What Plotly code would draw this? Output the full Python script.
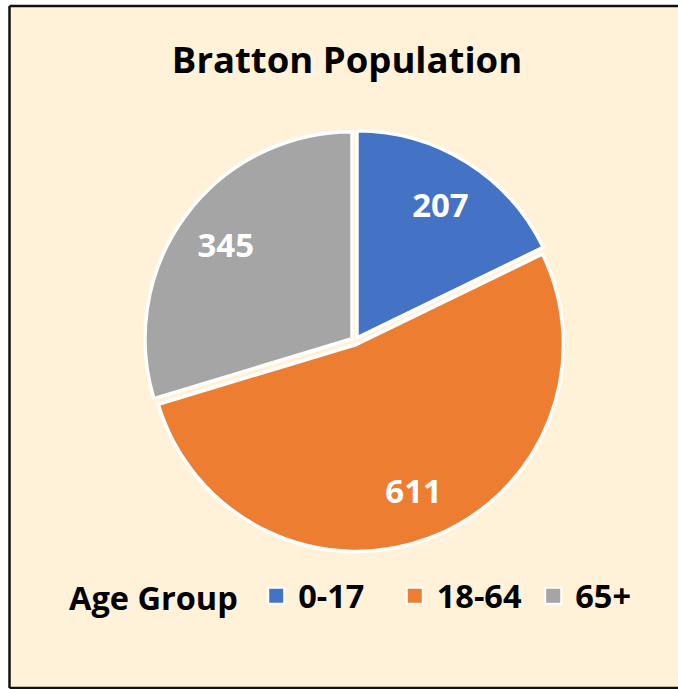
import plotly.graph_objects as go

categories = ["0-17", "18-64", "65+"]
values = [207, 611, 345]
colors = ["#4472C4", "#ED7D31", "#A5A5A5"]
title_text = "Bratton Population"
legend_title = "Age Group"

W, H = 678, 689
cx, cy, R = 355, 341, 207  # pixel centre (from top) and radius
pull = 0.018
Rd = R * (1 + pull)
FONT = "Open Sans"
domain = dict(x=[(cx - Rd) / W, (cx + Rd) / W],
              y=[(H - cy - Rd) / H, (H - cy + Rd) / H])

# coloured slices (no text)
fig = go.Figure(go.Pie(
    labels=categories, values=values, sort=False, direction="clockwise", rotation=0,
    pull=[pull] * 3,
    marker=dict(colors=colors, line=dict(color="white", width=3.5)),
    textinfo="none", hoverinfo="label+value", domain=domain, showlegend=False,
))
# transparent ring overlay that places the value labels further out, like Excel
fig.add_trace(go.Pie(
    labels=categories, values=values, sort=False, direction="clockwise", rotation=0,
    pull=[pull] * 3, hole=0.52,
    marker=dict(colors=["rgba(0,0,0,0)"] * 3, line=dict(width=0)),
    textinfo="value", textposition="inside", insidetextorientation="horizontal",
    textfont=dict(family=FONT, size=33, color="white", weight="bold"),
    hoverinfo="skip", showlegend=False, domain=domain,
))
# legend entries with Excel-sized square keys
for name, col in zip(categories, colors):
    fig.add_trace(go.Scatter(
        x=[None], y=[None], mode="markers", name=name,
        marker=dict(symbol="square", size=16, color=col, line=dict(color="white", width=2)),
        hoverinfo="skip", showlegend=True,
    ))

border = dict(color="#111111", width=2.5)
fig.update_layout(
    width=W, height=H,
    margin=dict(l=0, r=0, t=0, b=0),
    paper_bgcolor="white",
    plot_bgcolor="rgba(0,0,0,0)",
    xaxis=dict(visible=False), yaxis=dict(visible=False),
    title=dict(text=title_text, x=347 / W, xanchor="center", y=1 - 60 / H, yanchor="middle",
               font=dict(family=FONT, size=36.5, color="black", weight="bold")),
    showlegend=True,
    legend=dict(
        orientation="h", x=67 / W, xanchor="left", y=1 - 596 / H, yanchor="middle",
        title=dict(text=legend_title + " ", side="left",
                   font=dict(family=FONT, size=32.5, color="black", weight="bold")),
        font=dict(family=FONT, size=32.5, color="black", weight="bold"),
        bgcolor="rgba(0,0,0,0)", itemwidth=34, entrywidth=89.5, entrywidthmode="pixels",
        tracegroupgap=0, itemsizing="trace", itemclick=False, itemdoubleclick=False,
    ),
    shapes=[
        dict(type="rect", xref="paper", yref="paper", layer="below",
             x0=9.5 / W, x1=1.05, y0=1 - 688 / H, y1=1 - 6 / H,
             fillcolor="#FFF2D9", line=dict(width=0)),
        dict(type="line", xref="paper", yref="paper", layer="below",
             x0=9.5 / W, x1=1.05, y0=1 - 6 / H, y1=1 - 6 / H, line=border),
        dict(type="line", xref="paper", yref="paper", layer="below",
             x0=9.5 / W, x1=1.05, y0=1 - 688 / H, y1=1 - 688 / H, line=border),
        dict(type="line", xref="paper", yref="paper", layer="below",
             x0=9.5 / W, x1=9.5 / W, y0=1 - 688 / H, y1=1 - 6 / H, line=border),
    ],
)

fig.write_html("out.html", config={"displayModeBar": False},
               post_script="document.body.style.margin='0';document.body.style.overflow='hidden';")
